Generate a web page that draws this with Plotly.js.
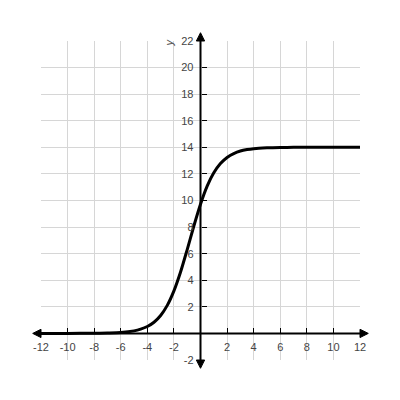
<!DOCTYPE html>
<html>
<head>
<meta charset="utf-8">
<script src="https://cdn.plot.ly/plotly-3.0.1.min.js"></script>
<style>
  body { margin: 0; background: #fff; }
  #chart { width: 400px; height: 400px; }
</style>
</head>
<body>
<div id="chart"></div>
<script>
// values
const tVals = [-12, -10, -8, -7, -6, -5, -4.5, -4, -3.5, -3, -2.5, -2, -1.5, -1, -0.5,
               0, 0.5, 1, 1.5, 2, 2.5, 3, 3.5, 4, 5, 6, 7, 8, 10, 12];
const yVals = [0, 0, 0.01, 0.03, 0.07, 0.19, 0.32, 0.52, 0.84, 1.35, 2.11, 3.2, 4.62, 6.31, 8.08,
               9.72, 11.08, 12.08, 12.78, 13.24, 13.53, 13.72, 13.83, 13.9, 13.96, 13.99, 14, 14, 14, 14];

const xTicks = [-12, -10, -8, -6, -4, -2, 2, 4, 6, 8, 10, 12];
const yTicks = [-2, 2, 4, 6, 8, 10, 12, 14, 16, 18, 20, 22];

const chart = document.getElementById('chart');
const gridCol = '#d6d6d6';
const labelFont = {family: 'Liberation Sans, Arial, sans-serif', size: 11, color: '#444'};
const titleFont = {family: 'Liberation Sans, Arial, sans-serif', size: 11, color: '#555', style: 'italic'};

// axis lines run a little past the grid (paper coords), arrow heads at both ends
const xRange = [-12, 12];
const yRange = [-2, 22];
const over = 0.026;
const headLen = 0.026, headHalf = 0.013;
const zeroX = (0 - xRange[0]) / (xRange[1] - xRange[0]);
const zeroY = (0 - yRange[0]) / (yRange[1] - yRange[0]);

// triangle path in paper coords; dx,dy is the pointing direction
function arrowHead(tx, ty, dx, dy) {
    const bx = tx - dx * headLen, by = ty - dy * headLen;
    const px = -dy * headHalf, py = dx * headHalf;
    return {type: 'path', xref: 'paper', yref: 'paper', layer: 'above',
            path: `M ${tx} ${ty} L ${bx + px} ${by + py} L ${bx - px} ${by - py} Z`,
            fillcolor: '#000', line: {color: '#000', width: 1}};
}

const curve = {
    x: tVals,
    y: yVals,
    mode: 'lines',
    type: 'scatter',
    line: {color: '#000', width: 3, shape: 'spline', smoothing: 0.8},
    hoverinfo: 'skip'
};

const layout = {
    width: 400,
    height: 400,
    margin: {l: 41, r: 40, t: 41, b: 40},
    paper_bgcolor: '#fff',
    plot_bgcolor: '#fff',
    showlegend: false,
    xaxis: {
        range: xRange,
        tickvals: xTicks,
        ticktext: xTicks.map(String),
        showgrid: true, gridcolor: gridCol, gridwidth: 1,
        zeroline: false, showline: false,
        anchor: 'free', position: zeroY,
        ticks: 'inside', ticklen: 5, tickwidth: 1, tickcolor: '#000',
        tickfont: labelFont,
        ticklabelstandoff: 6,
        fixedrange: true
    },
    yaxis: {
        range: yRange,
        tickvals: yTicks,
        ticktext: yTicks.map(String),
        showgrid: true, gridcolor: gridCol, gridwidth: 1,
        zeroline: false, showline: false,
        anchor: 'free', position: zeroX,
        ticks: 'inside', ticklen: 5, tickwidth: 1, tickcolor: '#000',
        tickfont: labelFont,
        ticklabelstandoff: 7,
        fixedrange: true
    },
    shapes: [
        {type: 'line', xref: 'paper', yref: 'paper', x0: -over + 0.01, x1: 1 + over - 0.01, y0: zeroY, y1: zeroY,
         line: {color: '#000', width: 2}, layer: 'above'},
        {type: 'line', xref: 'paper', yref: 'paper', x0: zeroX, x1: zeroX, y0: -over + 0.01, y1: 1 + over - 0.01,
         line: {color: '#000', width: 2}, layer: 'above'},
        arrowHead(1 + over, zeroY, 1, 0),
        arrowHead(-over, zeroY, -1, 0),
        arrowHead(zeroX, 1 + over, 0, 1),
        arrowHead(zeroX, -over, 0, -1)
    ],
    annotations: [
        {x: -2.35, y: 21.9, xref: 'x', yref: 'y', text: 'y', showarrow: false, textangle: -90,
         font: titleFont},
        {x: 11.85, y: -2.45, xref: 'x', yref: 'y', text: 't', showarrow: false,
         font: titleFont}
    ]
};

Plotly.newPlot(chart, [curve], layout, {displayModeBar: false, staticPlot: true});
</script>
</body>
</html>
